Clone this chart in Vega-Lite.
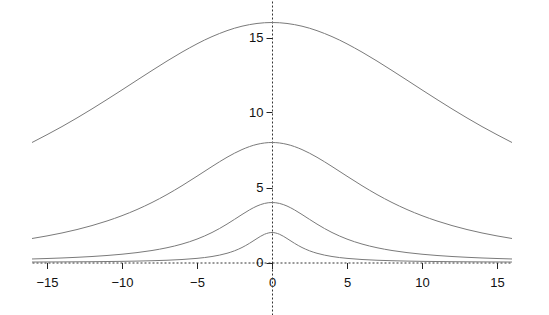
{
  "$schema": "https://vega.github.io/schema/vega-lite/v6.json",
  "width": 480,
  "height": 315,
  "autosize": "none",
  "padding": {"left": 32, "top": 0, "right": 37, "bottom": 0},
  "background": "white",
  "config": {"view": {"stroke": null}, "font": "Liberation Sans"},
  "data": {"values": [
    {"s":"a8","x":-16,"y":8},{"s":"a8","x":-14,"y":9.062},{"s":"a8","x":-12,"y":10.24},{"s":"a8","x":-10,"y":11.506},{"s":"a8","x":-8,"y":12.8},{"s":"a8","x":-6,"y":14.027},{"s":"a8","x":-4,"y":15.059},{"s":"a8","x":-2,"y":15.754},{"s":"a8","x":0,"y":16},{"s":"a8","x":2,"y":15.754},{"s":"a8","x":4,"y":15.059},{"s":"a8","x":6,"y":14.027},{"s":"a8","x":8,"y":12.8},{"s":"a8","x":10,"y":11.506},{"s":"a8","x":12,"y":10.24},{"s":"a8","x":14,"y":9.062},{"s":"a8","x":16,"y":8},
    {"s":"a4","x":-16,"y":1.6},{"s":"a4","x":-15,"y":1.772},{"s":"a4","x":-14,"y":1.969},{"s":"a4","x":-13,"y":2.197},{"s":"a4","x":-12,"y":2.462},{"s":"a4","x":-11,"y":2.768},{"s":"a4","x":-10,"y":3.122},{"s":"a4","x":-9,"y":3.531},{"s":"a4","x":-8,"y":4},{"s":"a4","x":-7,"y":4.531},{"s":"a4","x":-6,"y":5.12},{"s":"a4","x":-5,"y":5.753},{"s":"a4","x":-4,"y":6.4},{"s":"a4","x":-3,"y":7.014},{"s":"a4","x":-2,"y":7.529},{"s":"a4","x":-1,"y":7.877},{"s":"a4","x":0,"y":8},{"s":"a4","x":1,"y":7.877},{"s":"a4","x":2,"y":7.529},{"s":"a4","x":3,"y":7.014},{"s":"a4","x":4,"y":6.4},{"s":"a4","x":5,"y":5.753},{"s":"a4","x":6,"y":5.12},{"s":"a4","x":7,"y":4.531},{"s":"a4","x":8,"y":4},{"s":"a4","x":9,"y":3.531},{"s":"a4","x":10,"y":3.122},{"s":"a4","x":11,"y":2.768},{"s":"a4","x":12,"y":2.462},{"s":"a4","x":13,"y":2.197},{"s":"a4","x":14,"y":1.969},{"s":"a4","x":15,"y":1.772},{"s":"a4","x":16,"y":1.6},
    {"s":"a2","x":-16,"y":0.235},{"s":"a2","x":-15,"y":0.266},{"s":"a2","x":-14,"y":0.302},{"s":"a2","x":-13,"y":0.346},{"s":"a2","x":-12,"y":0.4},{"s":"a2","x":-11,"y":0.467},{"s":"a2","x":-10,"y":0.552},{"s":"a2","x":-9,"y":0.66},{"s":"a2","x":-8,"y":0.8},{"s":"a2","x":-7,"y":0.985},{"s":"a2","x":-6,"y":1.231},{"s":"a2","x":-5,"y":1.561},{"s":"a2","x":-4,"y":2},{"s":"a2","x":-3.5,"y":2.265},{"s":"a2","x":-3,"y":2.56},{"s":"a2","x":-2.5,"y":2.876},{"s":"a2","x":-2,"y":3.2},{"s":"a2","x":-1.5,"y":3.507},{"s":"a2","x":-1,"y":3.765},{"s":"a2","x":-0.5,"y":3.938},{"s":"a2","x":0,"y":4},{"s":"a2","x":0.5,"y":3.938},{"s":"a2","x":1,"y":3.765},{"s":"a2","x":1.5,"y":3.507},{"s":"a2","x":2,"y":3.2},{"s":"a2","x":2.5,"y":2.876},{"s":"a2","x":3,"y":2.56},{"s":"a2","x":3.5,"y":2.265},{"s":"a2","x":4,"y":2},{"s":"a2","x":5,"y":1.561},{"s":"a2","x":6,"y":1.231},{"s":"a2","x":7,"y":0.985},{"s":"a2","x":8,"y":0.8},{"s":"a2","x":9,"y":0.66},{"s":"a2","x":10,"y":0.552},{"s":"a2","x":11,"y":0.467},{"s":"a2","x":12,"y":0.4},{"s":"a2","x":13,"y":0.346},{"s":"a2","x":14,"y":0.302},{"s":"a2","x":15,"y":0.266},{"s":"a2","x":16,"y":0.235},
    {"s":"a1","x":-16,"y":0.031},{"s":"a1","x":-14,"y":0.04},{"s":"a1","x":-12,"y":0.054},{"s":"a1","x":-10,"y":0.077},{"s":"a1","x":-9,"y":0.094},{"s":"a1","x":-8,"y":0.118},{"s":"a1","x":-7,"y":0.151},{"s":"a1","x":-6,"y":0.2},{"s":"a1","x":-5,"y":0.276},{"s":"a1","x":-4,"y":0.4},{"s":"a1","x":-3.5,"y":0.492},{"s":"a1","x":-3,"y":0.615},{"s":"a1","x":-2.5,"y":0.78},{"s":"a1","x":-2,"y":1},{"s":"a1","x":-1.5,"y":1.28},{"s":"a1","x":-1,"y":1.6},{"s":"a1","x":-0.5,"y":1.882},{"s":"a1","x":0,"y":2},{"s":"a1","x":0.5,"y":1.882},{"s":"a1","x":1,"y":1.6},{"s":"a1","x":1.5,"y":1.28},{"s":"a1","x":2,"y":1},{"s":"a1","x":2.5,"y":0.78},{"s":"a1","x":3,"y":0.615},{"s":"a1","x":3.5,"y":0.492},{"s":"a1","x":4,"y":0.4},{"s":"a1","x":5,"y":0.276},{"s":"a1","x":6,"y":0.2},{"s":"a1","x":7,"y":0.151},{"s":"a1","x":8,"y":0.118},{"s":"a1","x":9,"y":0.094},{"s":"a1","x":10,"y":0.077},{"s":"a1","x":12,"y":0.054},{"s":"a1","x":14,"y":0.04},{"s":"a1","x":16,"y":0.031}
  ]},
  "mark": {"type": "line", "color": "#7a7a7a", "strokeWidth": 1, "interpolate": "monotone", "clip": false},
  "encoding": {
    "detail": {"field": "s", "type": "nominal"},
    "x": {
      "field": "x", "type": "quantitative",
      "scale": {"domain": [-16, 16], "nice": false, "zero": false},
      "axis": {
        "title": null, "orient": "bottom", "offset": -52.5, "grid": false,
        "values": [-15, -10, -5, 0, 5, 10, 15],
        "domainDash": [2, 2], "domainColor": "#333", "domainWidth": 1,
        "tickColor": "#222", "tickSize": 6, "labelPadding": 8,
        "labelFontSize": 13, "labelColor": "#111", "labelFont": "Liberation Sans"
      }
    },
    "y": {
      "field": "y", "type": "quantitative",
      "scale": {"domain": [-3.5, 17.5], "nice": false, "zero": false},
      "axis": {
        "title": null, "orient": "left", "offset": -240, "grid": false,
        "values": [0, 5, 10, 15],
        "domainDash": [2, 2], "domainColor": "#333", "domainWidth": 1,
        "tickColor": "#222", "tickSize": 6, "labelPadding": 3,
        "labelFontSize": 13, "labelColor": "#111", "labelFont": "Liberation Sans"
      }
    }
  }
}
